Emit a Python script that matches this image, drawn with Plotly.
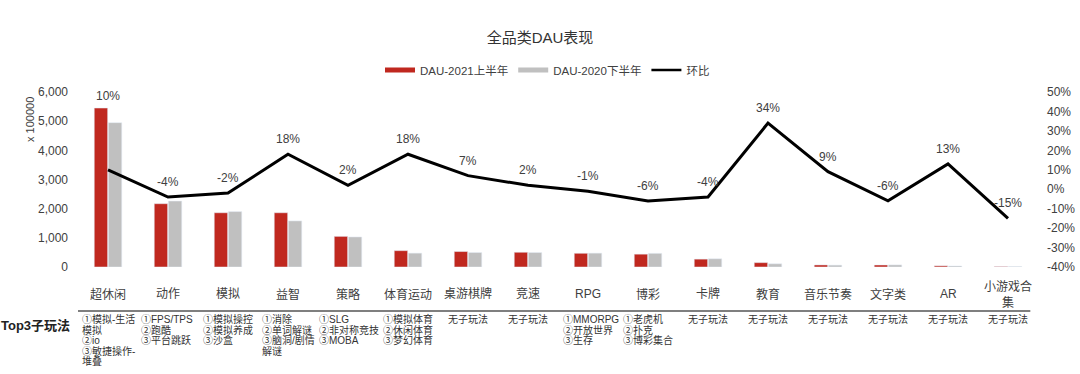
import plotly.graph_objects as go

categories = ["超休闲", "动作", "模拟", "益智", "策略", "体育运动", "桌游棋牌", "竞速",
              "RPG", "博彩", "卡牌", "教育", "音乐节奏", "文字类", "AR", "小游戏合集"]
category_labels = ["超休闲", "动作", "模拟", "益智", "策略", "体育运动", "桌游棋牌", "竞速",
                   "RPG", "博彩", "卡牌", "教育", "音乐节奏", "文字类", "AR", "小游戏合<br>集"]
dau_2021h1 = [5450, 2170, 1860, 1860, 1050, 560, 530, 505, 470, 440, 270, 150, 70, 68, 40, 15]
dau_2020h2 = [4950, 2260, 1900, 1580, 1030, 475, 495, 495, 475, 468, 282, 110, 64, 72, 35, 18]
hb_pct = [10, -4, -2, 18, 2, 18, 7, 2, -1, -6, -4, 34, 9, -6, 13, -15]
top3 = [
    ["①模拟-生活", "模拟", "②io", "③敏捷操作-", "堆叠"],
    ["①FPS/TPS", "②跑酷", "③平台跳跃"],
    ["①模拟操控", "②模拟养成", "③沙盒"],
    ["①消除", "②单词解谜", "③脑洞/剧情", "解谜"],
    ["①SLG", "②非对称竞技", "③MOBA"],
    ["①模拟体育", "②休闲体育", "③梦幻体育"],
    ["无子玩法"],
    ["无子玩法"],
    ["①MMORPG", "②开放世界", "③生存"],
    ["①老虎机", "②扑克", "③博彩集合"],
    ["无子玩法"],
    ["无子玩法"],
    ["无子玩法"],
    ["无子玩法"],
    ["无子玩法"],
    ["无子玩法"],
]
left_ticks = [0, 1000, 2000, 3000, 4000, 5000, 6000]
right_ticks = [-40, -30, -20, -10, 0, 10, 20, 30, 40, 50]
right_tick_text = [f"{v}%" for v in right_ticks]

RED = "#C0281F"
GRAY = "#C0C0C0"
FONT = "Liberation Sans, Noto Sans CJK SC, sans-serif"
TXT = "#404040"

idx = list(range(len(categories)))

fig = go.Figure()
fig.add_trace(go.Bar(x=idx, y=dau_2021h1, marker_color=RED, name="DAU-2021上半年",
                     showlegend=False, yaxis="y"))
fig.add_trace(go.Bar(x=idx, y=dau_2020h2, marker_color=GRAY, name="DAU-2020下半年",
                     showlegend=False, yaxis="y"))
fig.add_trace(go.Scatter(x=idx, y=hb_pct, mode="lines", line=dict(color="black", width=3),
                         name="环比", showlegend=False, yaxis="y2"))
# legend entries
fig.add_trace(go.Scatter(x=[None], y=[None], mode="lines", line=dict(color=RED, width=5),
                         name="DAU-2021上半年"))
fig.add_trace(go.Scatter(x=[None], y=[None], mode="lines", line=dict(color=GRAY, width=5),
                         name="DAU-2020下半年"))
fig.add_trace(go.Scatter(x=[None], y=[None], mode="lines", line=dict(color="black", width=2.5),
                         name="环比"))

annotations = []
# percentage labels
for i, p in enumerate(hb_pct):
    if i == 0:
        annotations.append(dict(x=i, y=dau_2021h1[i], xref="x", yref="y", text=f"{p}%",
                                showarrow=False, yanchor="middle", yshift=12,
                                font=dict(size=12, color=TXT, family=FONT)))
    else:
        annotations.append(dict(x=i, y=p, xref="x", yref="y2", text=f"{p}%",
                                showarrow=False, yanchor="middle", yshift=15,
                                font=dict(size=12, color=TXT, family=FONT)))
# category labels
for i, c in enumerate(category_labels):
    annotations.append(dict(x=i, y=0, xref="x", yref="paper", text=c, showarrow=False,
                            yanchor="middle", yshift=-27,
                            font=dict(size=12, color=TXT, family=FONT)))


def est_width(s, fs):
    w = 0.0
    for ch in s:
        if ord(ch) > 0x2000:
            w += fs * 0.95
        elif ch.isupper() or ch.isdigit():
            w += fs * 0.64
        elif ch in "/-":
            w += fs * 0.33
        else:
            w += fs * 0.5
    return w


SUB_FS = 10
LINE_H = 10.7
for i, lines in enumerate(top3):
    if len(lines) == 1:
        annotations.append(dict(x=i, y=0, xref="x", yref="paper", text=lines[0],
                                showarrow=False, xanchor="center", yanchor="middle",
                                yshift=-52, font=dict(size=SUB_FS, color="#333333", family=FONT)))
    else:
        bw = max(est_width(s, SUB_FS) for s in lines)
        for k, s in enumerate(lines):
            annotations.append(dict(x=i, y=0, xref="x", yref="paper", text=s,
                                    showarrow=False, xanchor="left", yanchor="middle",
                                    xshift=-bw / 2 - 3, yshift=-52 - k * LINE_H,
                                    font=dict(size=SUB_FS, color="#333333", family=FONT)))

annotations.append(dict(x=0, y=0, xref="paper", yref="paper", text="<b>Top3子玩法</b>",
                        showarrow=False, xanchor="right", yanchor="middle", xshift=-6, yshift=-58,
                        font=dict(size=13, color="#222222", family=FONT)))
annotations.append(dict(x=0, y=0.84, xref="paper", yref="paper", text="x 100000",
                        showarrow=False, textangle=-90, xanchor="center", yanchor="middle",
                        xshift=-48, font=dict(size=11, color=TXT, family=FONT)))

shapes = [dict(type="line", xref="paper", yref="paper", x0=0, x1=0.992,
               y0=-0.2514, y1=-0.2514, line=dict(color="#555555", width=1.5))]

fig.update_layout(
    width=1080, height=374,
    margin=dict(l=78, r=42, t=92, b=107, autoexpand=False),
    paper_bgcolor="white", plot_bgcolor="white",
    barmode="group", bargap=0.53, bargroupgap=0.05,
    title=dict(text="全品类DAU表现", x=0.5, xref="container", xanchor="center",
               y=1 - 38 / 374, yref="container", yanchor="middle",
               font=dict(size=15, color="#333333", family=FONT)),
    legend=dict(orientation="h", xref="container", yref="container",
                x=380 / 1080, xanchor="left", y=1 - 70 / 374, yanchor="middle",
                font=dict(size=11.5, color=TXT, family=FONT), itemwidth=30,
                bgcolor="rgba(0,0,0,0)"),
    xaxis=dict(range=[-0.5, len(categories) - 0.5], showticklabels=False, showgrid=False,
               zeroline=False, showline=False, ticks="", automargin=False),
    yaxis=dict(range=[0, 6000], tickvals=left_ticks, tickformat=",", showgrid=False,
               zeroline=False, showline=False, ticks="", ticklabelstandoff=9, automargin=False,
               tickfont=dict(size=12, color=TXT, family=FONT)),
    yaxis2=dict(range=[-40, 50], tickvals=right_ticks, ticktext=right_tick_text,
                tickmode="array", overlaying="y",
                side="right", showgrid=False, zeroline=False, showline=False, ticks="",
                ticklabelstandoff=8, automargin=False,
                tickfont=dict(size=12, color=TXT, family=FONT)),
    annotations=annotations,
    shapes=shapes,
    font=dict(family=FONT),
)

fig.write_html("out.html", config={"displayModeBar": False},
               post_script="document.body.style.margin='0';document.body.style.overflow='hidden';")
